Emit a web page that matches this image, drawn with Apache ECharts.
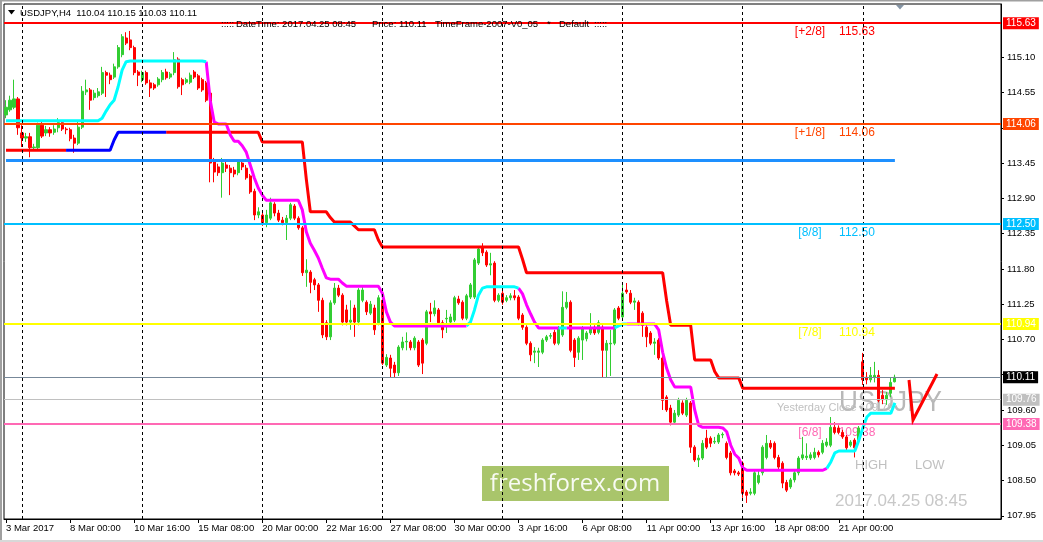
<!DOCTYPE html>
<html><head><meta charset="utf-8">
<script src="https://cdn.jsdelivr.net/npm/echarts@6/dist/echarts.min.js"></script>
<style>html,body{margin:0;padding:0;background:#fff;overflow:hidden}#c{width:1043px;height:542px}</style>
</head><body><div id="c"></div>
<script>
// ---------------- data ----------------
const symbolName = 'USDJPY,H4';
const xTickLabels = ['3 Mar 2017','8 Mar 00:00','10 Mar 16:00','15 Mar 08:00','20 Mar 00:00','22 Mar 16:00','27 Mar 08:00','30 Mar 00:00','3 Apr 16:00','6 Apr 08:00','11 Apr 00:00','13 Apr 16:00','18 Apr 08:00','21 Apr 00:00'];
const yTickValues = [107.95,108.50,109.05,109.60,110.15,110.70,111.25,111.80,112.35,112.90,113.45,114.00,114.55,115.10];

const candleOpen = [
114.20,114.28,114.32,114.45,113.92,113.84,113.86,113.69,113.69,114.04,
113.92,113.97,113.93,114.00,114.08,113.98,113.97,113.84,113.76,114.01,
114.56,114.59,114.47,114.50,114.54,114.86,114.82,114.79,114.95,115.14,
115.40,115.37,115.25,114.87,114.75,114.86,114.70,114.67,114.67,114.75,
114.87,114.79,114.86,115.07,114.75,114.71,114.71,114.87,114.81,114.75,
114.70,114.54,113.47,113.39,113.30,113.42,113.37,113.34,113.30,113.45,
113.37,113.25,113.01,112.64,112.64,112.52,112.59,112.81,112.67,112.56,
112.52,112.59,112.78,112.59,112.44,111.74,111.75,111.63,111.55,111.31,
110.96,110.74,111.27,111.50,111.39,111.16,110.97,111.19,110.97,111.31,
111.28,111.11,111.19,110.96,111.31,110.30,110.41,110.30,110.18,110.57,
110.66,110.66,110.57,110.66,110.69,110.64,111.13,111.10,111.16,110.96,
111.02,110.97,111.00,111.33,111.28,111.03,111.36,111.36,111.89,112.14,
112.06,111.86,111.89,111.31,111.42,111.31,111.35,111.38,111.36,111.08,
110.89,110.64,110.50,110.50,110.50,110.69,110.75,110.81,110.64,110.77,
111.20,111.28,110.69,110.50,110.69,110.71,110.80,110.89,110.81,110.89,
110.53,110.63,110.64,111.19,111.05,111.47,111.42,111.28,111.28,111.11,
110.89,110.80,110.64,110.69,110.41,109.80,109.63,109.41,109.52,109.71,
109.52,109.71,109.02,108.82,108.85,109.16,109.16,109.10,109.10,109.21,
109.08,108.93,108.65,108.62,108.77,108.32,108.30,108.30,108.47,108.62,
108.86,109.08,109.08,108.86,108.77,108.47,108.40,108.51,108.62,108.85,
108.86,108.85,108.86,108.94,108.94,109.05,109.05,109.33,109.32,109.25,
109.18,109.05,109.13,109.13,110.35,110.11,110.07,110.11,110.14,109.83,
109.76,109.86,110.04];
const candleClose = [
114.32,114.43,114.45,114.00,113.84,113.86,113.69,113.70,114.04,113.87,
113.97,113.92,113.98,114.08,113.98,113.97,113.83,113.76,114.01,114.57,
114.59,114.43,114.54,114.56,114.86,114.82,114.75,114.95,115.25,115.42,
115.32,115.25,114.86,114.82,114.86,114.70,114.62,114.62,114.76,114.86,
114.78,114.84,115.06,114.64,114.67,114.75,114.82,114.79,114.62,114.59,
114.43,113.45,113.31,113.30,113.45,113.37,113.30,113.28,113.47,113.39,
113.22,113.00,112.64,112.69,112.52,112.64,112.83,112.67,112.56,112.52,
112.59,112.80,112.59,112.44,111.74,111.78,111.59,111.55,111.31,110.77,
110.74,111.27,111.50,111.39,110.97,110.97,111.00,110.97,111.47,111.47,
111.13,111.25,110.85,111.35,110.33,110.42,110.25,110.18,110.58,110.66,
110.67,110.57,110.72,110.30,110.33,111.13,111.10,111.19,110.96,110.85,
111.03,111.05,111.35,111.27,111.03,111.38,111.55,111.94,112.11,112.05,
111.86,111.88,111.31,111.39,111.28,111.35,111.38,111.35,111.03,110.89,
110.64,110.46,110.52,110.52,110.69,110.74,110.76,110.64,110.88,111.20,
111.28,110.53,110.42,110.72,110.88,110.80,110.88,110.80,110.96,110.53,
110.64,110.64,111.16,111.03,111.42,111.44,111.28,111.30,110.96,110.92,
110.74,110.64,110.66,110.41,109.75,109.60,109.41,109.55,109.75,109.55,
109.75,109.02,108.82,108.85,109.08,109.02,109.08,109.11,109.21,109.22,
108.86,108.62,108.62,108.60,108.30,108.27,108.32,108.62,108.58,109.02,
109.08,109.02,108.86,108.71,108.46,108.35,108.51,108.62,108.85,108.90,
108.88,108.90,108.94,108.90,109.08,109.10,109.33,109.25,109.25,109.18,
109.01,109.10,109.01,109.32,110.07,110.07,110.14,110.14,109.75,109.76,
109.83,110.03,110.11];
const candleLow = [
114.15,114.25,114.29,113.89,113.70,113.78,113.54,113.65,113.65,113.84,
113.87,113.86,113.89,113.93,113.95,113.90,113.79,113.61,113.73,113.98,
114.51,114.28,114.43,114.47,114.51,114.48,114.68,114.76,114.92,115.10,
115.29,115.21,114.82,114.65,114.71,114.67,114.48,114.59,114.64,114.71,
114.75,114.76,114.82,114.61,114.51,114.68,114.68,114.76,114.59,114.56,
114.40,113.15,113.15,113.25,112.91,113.31,112.95,113.23,113.26,113.34,
113.19,112.97,112.56,112.59,112.47,112.45,112.56,112.62,112.53,112.48,
112.25,112.56,112.56,112.41,111.69,111.52,111.42,111.47,111.13,110.72,
110.69,110.69,111.24,111.36,110.92,110.92,110.85,110.74,110.92,111.28,
111.08,111.08,110.77,110.92,110.30,110.27,110.11,110.11,110.13,110.53,
110.53,110.53,110.53,110.27,110.16,110.61,110.97,111.06,110.92,110.72,
110.80,110.92,110.97,111.24,111.00,111.00,111.33,111.33,111.86,112.00,
111.83,111.70,111.28,111.28,111.24,111.28,111.31,111.31,111.00,110.85,
110.61,110.36,110.33,110.27,110.47,110.66,110.71,110.61,110.61,110.74,
111.17,110.50,110.27,110.38,110.38,110.67,110.77,110.77,110.78,110.11,
110.11,110.13,110.61,111.00,111.02,111.41,111.25,111.16,110.92,110.74,
110.58,110.61,110.46,110.38,109.60,109.57,109.36,109.38,109.49,109.52,
109.49,108.93,108.79,108.71,108.82,108.99,109.02,109.07,109.07,109.16,
108.83,108.58,108.58,108.57,108.23,108.15,108.27,108.27,108.44,108.58,
108.83,108.99,108.83,108.68,108.38,108.32,108.37,108.47,108.58,108.82,
108.82,108.82,108.83,108.86,108.91,109.02,109.02,109.22,109.22,109.15,
108.97,109.02,108.86,109.10,109.99,110.00,110.03,110.03,109.72,109.69,
109.68,109.80,110.03];
const candleHigh = [
114.43,114.50,114.75,114.48,114.04,113.92,113.92,113.75,114.08,114.09,
114.03,114.01,114.04,114.15,114.12,114.01,114.00,113.89,114.12,114.65,
114.75,114.62,114.59,114.62,114.95,114.89,114.86,115.00,115.29,115.46,
115.49,115.51,115.28,114.90,114.89,114.89,114.75,114.70,114.79,114.90,
114.92,114.87,115.18,115.10,114.78,114.78,114.86,114.90,114.84,114.78,
114.73,114.57,113.53,113.44,113.53,113.50,113.42,113.39,113.50,113.50,
113.42,113.28,113.05,112.76,112.69,112.72,112.91,112.84,112.72,112.61,
112.64,112.83,112.81,112.62,112.47,111.95,111.78,111.66,111.58,111.35,
111.00,111.31,111.58,111.55,111.42,111.24,111.31,111.24,111.50,111.52,
111.31,111.30,111.24,111.39,111.35,110.47,110.46,110.35,110.61,110.74,
110.81,110.69,110.75,110.69,110.72,111.16,111.27,111.31,111.19,111.00,
111.16,111.10,111.38,111.38,111.31,111.41,111.58,111.97,112.14,112.20,
112.09,112.05,111.92,111.42,111.47,111.39,111.42,111.47,111.39,111.11,
110.92,110.67,110.58,110.57,110.72,110.77,110.80,110.85,110.91,111.45,
111.44,111.31,110.72,110.75,110.91,110.83,111.11,110.92,111.00,110.92,
110.69,110.85,111.19,111.22,111.58,111.58,111.47,111.35,111.31,111.14,
110.92,110.83,110.72,110.72,110.44,109.83,109.68,109.60,109.79,109.75,
109.79,109.74,109.05,108.90,109.13,109.29,109.19,109.18,109.24,109.25,
109.11,108.96,108.68,108.65,108.80,108.35,108.38,108.65,108.66,109.05,
109.21,109.13,109.11,108.90,108.80,108.51,108.54,108.65,108.88,109.18,
109.08,108.94,109.01,108.97,109.13,109.16,109.49,109.41,109.36,109.29,
109.21,109.13,109.16,109.35,110.49,110.19,110.27,110.35,110.22,109.91,
109.88,110.10,110.15];

// stepped indicator lines (one value per bar)
const upperLine = [
113.65,113.65,113.65,113.65,113.65,113.65,113.65,113.65,113.65,113.65,
113.65,113.65,113.65,113.65,113.65,113.65,113.65,113.65,113.65,113.65,
113.65,113.65,113.65,113.65,113.65,113.65,113.65,113.81,113.93,113.93,
113.93,113.93,113.93,113.93,113.93,113.93,113.93,113.93,113.93,113.93,
113.93,113.93,113.93,113.93,113.93,113.93,113.93,113.93,113.93,113.93,
113.93,113.93,113.93,113.93,113.93,113.93,113.93,113.93,113.93,113.93,
113.93,113.93,113.93,113.93,113.78,113.78,113.78,113.78,113.78,113.78,
113.78,113.78,113.78,113.78,113.78,113.20,112.69,112.69,112.69,112.69,
112.69,112.60,112.53,112.53,112.53,112.53,112.53,112.47,112.41,112.41,
112.41,112.41,112.41,112.25,112.14,112.14,112.14,112.14,112.14,112.14,
112.14,112.14,112.14,112.14,112.14,112.14,112.14,112.14,112.14,112.14,
112.14,112.14,112.14,112.14,112.14,112.14,112.14,112.14,112.14,112.14,
112.14,112.14,112.14,112.14,112.14,112.14,112.14,112.14,112.14,111.95,
111.74,111.74,111.74,111.74,111.74,111.74,111.74,111.74,111.74,111.74,
111.74,111.74,111.74,111.74,111.74,111.74,111.74,111.74,111.74,111.74,
111.74,111.74,111.74,111.74,111.74,111.74,111.74,111.74,111.74,111.74,
111.74,111.74,111.74,111.74,111.74,111.30,110.92,110.92,110.92,110.92,
110.92,110.92,110.38,110.38,110.38,110.38,110.38,110.20,110.10,110.10,
110.10,110.10,110.10,110.10,109.94,109.94,109.94,109.94,109.94,109.94,
109.94,109.94,109.94,109.94,109.94,109.94,109.94,109.94,109.94,109.94,
109.94,109.94,109.94,109.94,109.94,109.94,109.94,109.94,109.94,109.94,
109.94,109.94,109.94,109.94,109.94,109.94,109.94,109.94,109.94,109.94,
109.94,109.94,109.94];
const lowerLine = [
114.11,114.11,114.11,114.11,114.11,114.11,114.11,114.11,114.11,114.11,
114.11,114.11,114.11,114.11,114.11,114.11,114.11,114.11,114.11,114.11,
114.11,114.11,114.11,114.11,114.15,114.26,114.36,114.43,114.64,114.90,
115.03,115.04,115.04,115.04,115.04,115.04,115.04,115.04,115.04,115.04,
115.04,115.04,115.04,115.04,115.04,115.04,115.04,115.04,115.04,115.04,
115.03,114.43,114.09,114.06,114.06,114.06,113.89,113.79,113.79,113.72,
113.62,113.42,113.22,113.06,112.95,112.87,112.87,112.87,112.87,112.87,
112.87,112.87,112.87,112.87,112.72,112.38,112.20,112.09,111.97,111.81,
111.66,111.64,111.64,111.64,111.58,111.53,111.53,111.53,111.53,111.53,
111.53,111.53,111.53,111.53,111.42,111.13,110.97,110.91,110.91,110.91,
110.91,110.91,110.91,110.91,110.91,110.91,110.91,110.91,110.91,110.91,
110.91,110.91,110.91,110.91,110.91,110.91,110.97,111.16,111.39,111.50,
111.52,111.52,111.52,111.52,111.52,111.52,111.52,111.52,111.50,111.41,
111.24,111.10,110.97,110.88,110.88,110.88,110.88,110.88,110.88,110.88,
110.88,110.88,110.88,110.88,110.88,110.88,110.88,110.88,110.88,110.88,
110.88,110.88,110.88,110.91,110.94,110.94,110.94,110.94,110.94,110.94,
110.94,110.94,110.94,110.85,110.50,110.25,110.07,109.96,109.96,109.96,
109.96,109.96,109.60,109.36,109.33,109.33,109.33,109.33,109.33,109.32,
109.26,109.05,108.91,108.85,108.70,108.66,108.66,108.66,108.66,108.66,
108.66,108.66,108.66,108.66,108.66,108.66,108.66,108.66,108.66,108.66,
108.66,108.66,108.66,108.66,108.66,108.69,108.79,108.93,108.96,108.96,
108.96,108.96,108.96,109.13,109.32,109.49,109.55,109.55,109.55,109.55,
109.55,109.55,109.71];
const upperBlueRanges = [[15, 40]];
const lowerCyanRanges = [[0, 50], [115, 128], [138, 140], [152, 155], [205, 222]];
const gridBarIndices = [4, 34, 64, 94, 124, 154, 184, 214];

const levelNames  = ['[+2/8]', '[+1/8]', '[8/8]', '[7/8]', '[6/8]'];
const levelValues = [115.63, 114.06, 112.50, 110.94, 109.38];
const blueLevel = 113.49;
const bidPrice = 110.11;
const yesterdayClose = 109.76;
const infoDateTime = '2017.04.25 08:45';
const infoTimeFrame = 'TimeFrame-2007-V0_05';

// ---------------- chart ----------------
const levelColors = ['#ff0000', '#ff4500', '#00bfff', '#ffff00', '#ff69b4'];
const FONT = '"Liberation Sans", Arial, sans-serif';
const N = 249;
const nBars = candleOpen.length;
const cats = Array.from({length: N}, (_, i) => String(i));
const candleData = candleOpen.map((o, i) => [o, candleClose[i], candleLow[i], candleHigh[i]]);
const tickIdx = {};
xTickLabels.forEach((t, k) => { tickIdx[k * 16] = t; });

function splitByRanges(values, ranges) {
  const a = [], b = [];
  values.forEach((v, i) => {
    const inA = ranges.some(([s, e]) => i >= s && i <= e);
    const inside = ranges.some(([s, e]) => i > s && i < e);
    a.push(inA ? v : null);
    b.push(inside ? null : v);
  });
  return [a, b];
}
const [upperBlue, upperRed] = splitByRanges(upperLine, upperBlueRanges);
const [lowerCyan, lowerMagenta] = splitByRanges(lowerLine, lowerCyanRanges);

function stepSeries(data, color) {
  return {type: 'line', data, showSymbol: false, symbol: 'none', connectNulls: false,
    lineStyle: {color, width: 3}, z: 3, silent: true, animation: false};
}

const chart = echarts.init(document.getElementById('c'), null, {renderer: 'canvas'});
const option = {
  animation: false,
  backgroundColor: '#fff',
  grid: {left: 4, top: 4, width: 997, height: 515, show: true, borderColor: '#000', borderWidth: 1, backgroundColor: 'transparent'},
  xAxis: {
    type: 'category', data: cats, boundaryGap: true,
    axisLine: {lineStyle: {color: '#000', width: 1}},
    axisTick: {show: true, alignWithLabel: true, length: 4, lineStyle: {color: '#000'},
      interval: (i) => tickIdx[i] !== undefined},
    axisLabel: {interval: (i) => tickIdx[i] !== undefined, formatter: (v, i) => tickIdx[i] || '',
      align: 'left', margin: 4, fontSize: 9.5, color: '#000', fontFamily: FONT},
    splitLine: {show: false}
  },
  yAxis: {
    type: 'value', position: 'right', min: 107.9, max: 115.93, scale: true,
    axisLine: {show: true, lineStyle: {color: '#000', width: 1}},
    axisTick: {show: true, length: 3, customValues: yTickValues, lineStyle: {color: '#000'}},
    axisLabel: {customValues: yTickValues, formatter: (v) => v.toFixed(2), margin: 6,
      fontSize: 9.5, color: '#000', fontFamily: FONT},
    splitLine: {show: false}
  },
  series: [
    {type: 'line', data: [], z: 1, silent: true,
      markLine: {silent: true, symbol: ['none', 'none'], label: {show: false}, animation: false,
        lineStyle: {color: '#000', type: [3, 3], width: 1},
        data: gridBarIndices.map(i => ({xAxis: i}))}},
    {type: 'candlestick', data: candleData, barWidth: 2.6, z: 2, silent: true,
      itemStyle: {color: '#32cd32', color0: '#ff0000', borderColor: '#32cd32', borderColor0: '#ff0000', borderWidth: 1}},
    stepSeries(upperRed, '#ff0000'),
    stepSeries(upperBlue, '#0000ff'),
    stepSeries(lowerMagenta, '#ff00ff'),
    stepSeries(lowerCyan, '#00ffff'),
    {type: 'line', data: [], z: 4, silent: true,
      markLine: {silent: true, symbol: ['none', 'none'], animation: false, precision: 2,
        data: [
          ...levelValues.map((v, k) => ({yAxis: v, lineStyle: {color: levelColors[k], width: 2, type: 'solid'},
            label: {show: true, position: 'end', distance: 2, formatter: v.toFixed(2), color: '#fff',
              backgroundColor: levelColors[k], padding: [1, 3, 0, 3], fontSize: 10, lineHeight: 11, fontFamily: FONT}})),
          [{coord: [0, blueLevel], lineStyle: {color: '#1e90ff', width: 3, type: 'solid'}, label: {show: false}},
           {coord: [nBars - 1, blueLevel]}],
          {yAxis: bidPrice, lineStyle: {color: '#778899', width: 1, type: 'solid'},
            label: {show: true, position: 'end', distance: 2, formatter: bidPrice.toFixed(2), color: '#fff',
              backgroundColor: '#000', padding: [1, 3, 0, 3], fontSize: 10, lineHeight: 11, fontFamily: FONT}},
          {yAxis: yesterdayClose, lineStyle: {color: '#c0c0c0', width: 1, type: 'solid'},
            label: {show: true, position: 'end', distance: 2, formatter: yesterdayClose.toFixed(2), color: '#fff',
              backgroundColor: '#c0c0c0', padding: [1, 3, 0, 3], fontSize: 10, lineHeight: 11, fontFamily: FONT}}
        ]}}
  ]
};
chart.setOption(option);

const py = (v) => chart.convertToPixel({yAxisIndex: 0}, v);
const last = nBars - 1;
const headerText = symbolName + '  ' + [candleOpen[last], candleHigh[last], candleLow[last], candleClose[last]].map(v => v.toFixed(2)).join(' ');
const T = (x, y, text, size, fill, extra) => Object.assign({type: 'text', x, y, z: 1,
  style: Object.assign({text, fontSize: size, fontFamily: FONT, fill, verticalAlign: 'middle', align: 'left'}, (extra || {}))});

const graphics = [
  {type: 'rect', z: 0, shape: {x: 482, y: 466, width: 187, height: 35}, style: {fill: '#a9c56b'}},
  {type: 'text', z: 0, x: 575, y: 484, style: {text: 'freshforex.com', fontSize: 24, fontFamily: '"Open Sans", sans-serif', fill: 'rgba(255,255,255,0.92)', align: 'center', verticalAlign: 'middle'}},
  // header
  {type: 'polygon', z: 10, shape: {points: [[8, 10], [15, 10], [11.5, 14.5]]}, style: {fill: '#000'}},
  Object.assign(T(20, 13, headerText, 9.5, '#000'), {z: 10}),
  Object.assign(T(221, 24, ':::::', 9.5, '#000'), {z: 10}),
  Object.assign(T(236, 24, 'DateTime: ' + infoDateTime, 9.5, '#000'), {z: 10}),
  Object.assign(T(372, 24, 'Price: ' + bidPrice.toFixed(2), 9.5, '#000'), {z: 10}),
  Object.assign(T(435, 24, infoTimeFrame, 9.5, '#000'), {z: 10}),
  Object.assign(T(547, 24, '*', 9.5, '#000'), {z: 10}),
  Object.assign(T(559, 24, 'Default', 9.5, '#000'), {z: 10}),
  Object.assign(T(594, 24, ':::::', 9.5, '#000'), {z: 10}),
  {type: 'polygon', z: 10, shape: {points: [[896, 5], [904, 5], [900, 9.5]]}, style: {fill: '#8595a5'}},
  // window borders
  {type: 'rect', z: 10, shape: {x: 0, y: 0, width: 2, height: 542}, style: {fill: '#a0a0a0'}},
  {type: 'rect', z: 10, shape: {x: 0, y: 0, width: 1043, height: 1.5}, style: {fill: '#a0a0a0'}},
  {type: 'rect', z: 10, shape: {x: 0, y: 540, width: 1043, height: 2}, style: {fill: '#d8d8d8'}},
  // right-side annotations
  {type: 'text', z: 1, x: 839, y: 403, scaleX: 0.9, style: {text: 'USDJPY', fontSize: 29, fontFamily: FONT, fill: '#b8b8b8', verticalAlign: 'middle'}},
  T(777, py(yesterdayClose) + 8, 'Yesterday Close ' + yesterdayClose.toFixed(2), 11, '#c0c0c0'),
  T(855, 465, 'HIGH', 13, '#c0c0c0'),
  T(915, 465, 'LOW', 13, '#c0c0c0'),
  T(835, 501.5, infoDateTime, 17, '#c8c8c8'),
  {type: 'polyline', z: 10, shape: {points: [[909, 380], [913, 420], [937, 374]]}, style: {stroke: '#ff0000', lineWidth: 3, fill: null}}
];
levelValues.forEach((v, k) => {
  const y = py(v) + 8.5;
  graphics.push(T(810, y, levelNames[k], 12, levelColors[k], {align: 'center'}));
  graphics.push(T(857, y, v.toFixed(2), 12, levelColors[k], {align: 'center'}));
});
chart.setOption({graphic: graphics});
</script>
</body></html>
